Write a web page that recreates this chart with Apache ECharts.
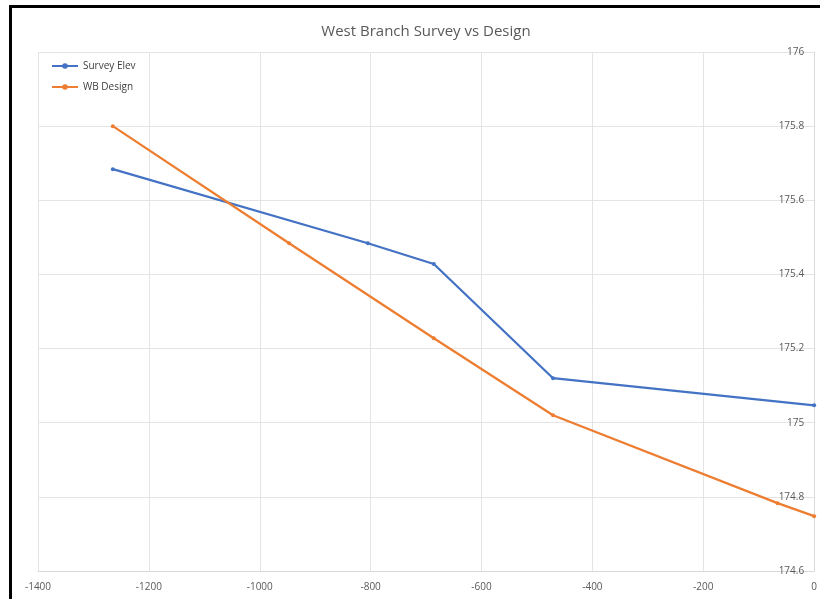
<!DOCTYPE html>
<html>
<head>
<meta charset="utf-8">
<script src="https://cdn.jsdelivr.net/npm/echarts@6/dist/echarts.min.js"></script>
<style>
html,body{margin:0;padding:0;background:#fff;}
#c{width:820px;height:599px;}
</style>
</head>
<body>
<div id="c"></div>
<script>
var surveyX = [-1265, -805, -686, -471, 0];
var surveyY = [175.684, 175.484, 175.428, 175.12, 175.047];
var designX = [-1265, -947, -686, -471, -66, 0];
var designY = [175.8, 175.484, 175.228, 175.02, 174.783, 174.748];
var seriesNames = ['Survey Elev', 'WB Design'];
var titleText = 'West Branch Survey vs Design';

function pairs(xs, ys) { return xs.map(function (x, i) { return [x, ys[i]]; }); }

var font = '"Liberation Sans Narrow", "Open Sans", sans-serif';
var chart = echarts.init(document.getElementById('c'));
chart.setOption({
  animation: false,
  backgroundColor: '#fff',
  title: {
    text: titleText, left: 421, top: 19, textAlign: 'center',
    textStyle: { fontFamily: font, fontSize: 15, fontWeight: 'normal', color: '#595959' }
  },
  legend: {
    orient: 'vertical', left: 46, top: 56, itemWidth: 26, itemHeight: 7, itemGap: 11,
    textStyle: { fontFamily: font, fontSize: 10, color: '#404040' },
    data: seriesNames
  },
  grid: { left: 38, right: 3, top: 52, bottom: 28 },
  xAxis: {
    type: 'value', min: -1400, max: 0, interval: 200,
    axisLine: { show: true, onZero: false, lineStyle: { color: '#d9d9d9' } },
    axisTick: { show: false },
    axisLabel: {
      fontFamily: font, fontSize: 10, color: '#595959', margin: 11, showMaxLabel: true,
      formatter: function (v) { return String(v); }
    },
    splitLine: { show: true, lineStyle: { color: '#e4e4e4' } }
  },
  yAxis: {
    type: 'value', position: 'right', min: 174.6, max: 176, interval: 0.2,
    axisLine: { show: true, lineStyle: { color: '#d9d9d9' } },
    axisTick: { show: false },
    axisLabel: {
      inside: true, margin: 10, fontFamily: font, fontSize: 10, color: '#595959',
      formatter: function (v) { return String(parseFloat(v.toFixed(1))); }
    },
    splitLine: { show: true, lineStyle: { color: '#e4e4e4' } }
  },
  series: [
    {
      name: seriesNames[0], type: 'line', data: pairs(surveyX, surveyY),
      symbol: 'circle', symbolSize: 4, color: '#4472C4',
      lineStyle: { width: 2.25, color: '#4472C4' }, itemStyle: { color: '#4472C4' }
    },
    {
      name: seriesNames[1], type: 'line', data: pairs(designX, designY),
      symbol: 'circle', symbolSize: 4, color: '#ED7D31',
      lineStyle: { width: 2.25, color: '#ED7D31' }, itemStyle: { color: '#ED7D31' }
    }
  ],
  graphic: [
    { type: 'rect', left: 9, top: 5, shape: { width: 3, height: 594 }, style: { fill: '#000' }, z: 100 },
    { type: 'rect', left: 9, top: 5, shape: { width: 811, height: 3 }, style: { fill: '#000' }, z: 100 }
  ]
});
</script>
</body>
</html>
